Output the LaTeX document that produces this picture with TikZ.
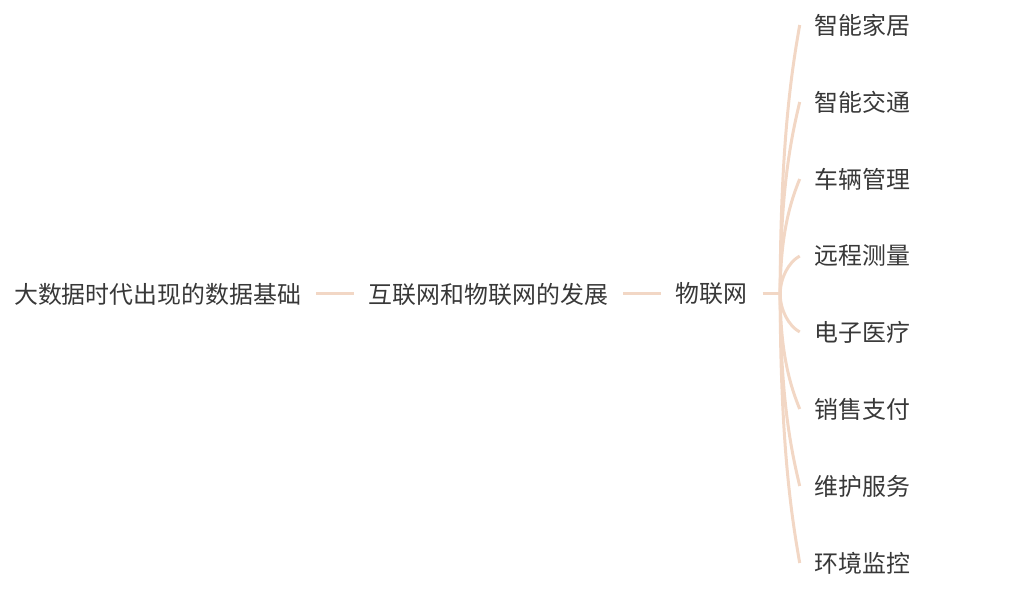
\documentclass[tikz,border=0pt]{standalone}
\usepackage{fontspec}
\usepackage{tikz}
\usetikzlibrary{positioning}
\newfontfamily\cjk{Noto Sans CJK SC}
\definecolor{branchline}{HTML}{F2D7C5}
\definecolor{topictext}{HTML}{383838}

\begin{document}
\begin{tikzpicture}[x=1pt, y=1pt]
			\tikzstyle{topic} = [inner xsep=15pt, inner ysep=2pt, text=topictext, font=\cjk\fontsize{23.9}{28}\selectfont]
			\tikzstyle{branch} = [draw=branchline, line width=3pt]

			\useasboundingbox (0,0) rectangle (1034,600);

			\node [topic, anchor=west] (base) at (-1,306) {大数据时代出现的数据基础};

			\node [topic, right=37.5pt of base] (net) {互联网和物联网的发展};
			\draw [branch] (base) -- (net);

			\node [topic, right=37.5pt of net] (iot) {物联网};
			\draw [branch] (net) -- (iot);

			\coordinate [right=17.5pt of iot] (fork);
			\draw [branch] (iot) -- (fork);

			\node [topic, right=37pt of iot, yshift=269pt] (home) {智能家居};
			\draw [branch] (fork) .. controls +(0,160) and +(-6,-35) .. (home.west);

			\node [topic, right=37pt of iot, yshift=192pt] (traffic) {智能交通};
			\draw [branch] (fork) .. controls +(0,110) and +(-7,-30) .. (traffic.west);

			\node [topic, right=37pt of iot, yshift=115pt] (vehicle) {车辆管理};
			\draw [branch] (fork) .. controls +(0,60) and +(-9,-22) .. (vehicle.west);

			\node [topic, right=37pt of iot, yshift=38pt] (measure) {远程测量};
			\draw [branch] (fork) .. controls +(0,16) and +(-11,-6) .. (measure.west);

			\node [topic, right=37pt of iot, yshift=-38pt] (medical) {电子医疗};
			\draw [branch] (fork) .. controls +(0,-16) and +(-11,6) .. (medical.west);

			\node [topic, right=37pt of iot, yshift=-115pt] (payment) {销售支付};
			\draw [branch] (fork) .. controls +(0,-60) and +(-9,22) .. (payment.west);

			\node [topic, right=37pt of iot, yshift=-192pt] (service) {维护服务};
			\draw [branch] (fork) .. controls +(0,-110) and +(-7,30) .. (service.west);

			\node [topic, right=37pt of iot, yshift=-269pt] (monitor) {环境监控};
			\draw [branch] (fork) .. controls +(0,-160) and +(-6,35) .. (monitor.west);
		\end{tikzpicture}
\end{document}
